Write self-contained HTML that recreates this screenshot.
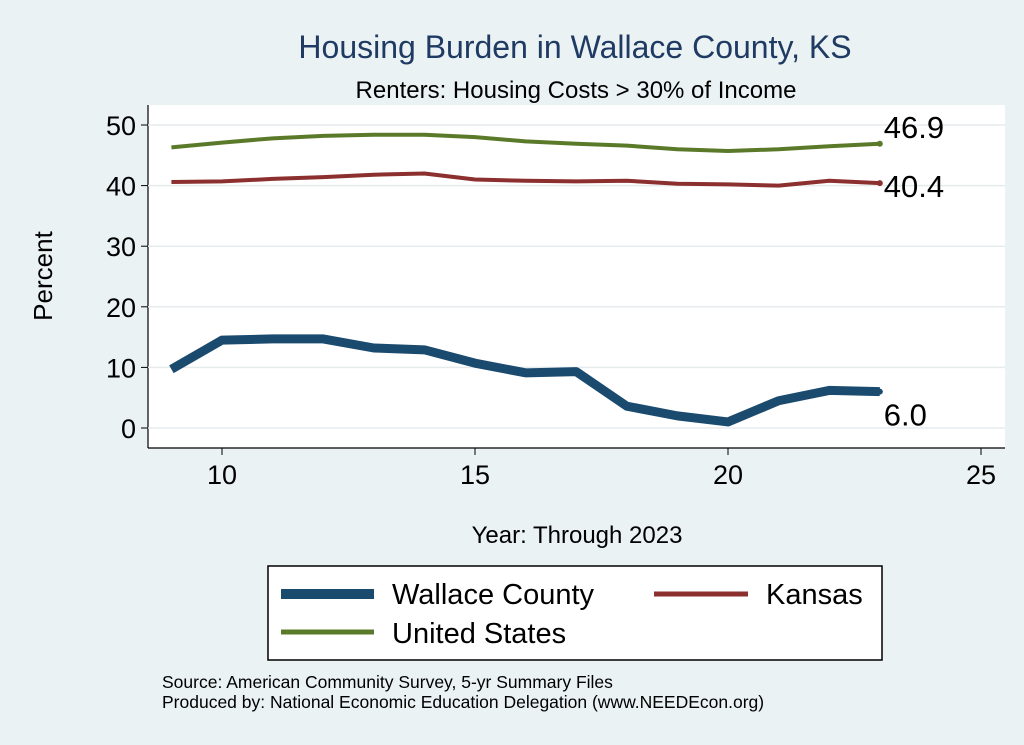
<!DOCTYPE html>
<html><head><meta charset="utf-8"><style>
body{margin:0;background:#eaf2f3;font-family:"Liberation Sans",sans-serif}
svg{display:block}
</style></head><body>
<svg width="1024" height="745" id="c" xmlns="http://www.w3.org/2000/svg">
<rect x="0" y="0" width="1024" height="745" fill="#eaf2f3"/>
<rect x="148" y="105" width="857" height="343" fill="#ffffff"/>
<text x="575" y="58" font-size="32" fill="#1f3a63" text-anchor="middle">Housing Burden in Wallace County, KS</text>
<text x="576" y="98" font-size="24" fill="#000" text-anchor="middle">Renters: Housing Costs &gt; 30% of Income</text>
<text x="52" y="276" font-size="26" text-anchor="middle" transform="rotate(-90 52 276)">Percent</text>
<text x="577" y="543" font-size="24" text-anchor="middle">Year: Through 2023</text>
<g id="axes"></g>
<g id="series"></g>
<rect x="268" y="566" width="614" height="94" fill="#fff" stroke="#000" stroke-width="1.5"/>
<g><line x1="281" y1="594" x2="374" y2="594" stroke="#1b4a6f" stroke-width="10"/><text x="392" y="604" font-size="29">Wallace County</text></g>
<g><line x1="654" y1="594" x2="748" y2="594" stroke="#8c2f2f" stroke-width="5"/><text x="766" y="604" font-size="29">Kansas</text></g>
<g><line x1="281" y1="632" x2="374" y2="632" stroke="#5a7a2a" stroke-width="5"/><text x="392" y="643" font-size="29">United States</text></g>
<text x="162" y="688" font-size="17.5">Source: American Community Survey, 5-yr Summary Files</text>
<text x="162" y="708" font-size="17.5">Produced by: National Economic Education Delegation (www.NEEDEcon.org)</text>
</svg>
<script>
const years=[9,10,11,12,13,14,15,16,17,18,19,20,21,22,23];
const wallace=[9.7,14.5,14.7,14.7,13.2,12.9,10.7,9.1,9.3,3.6,2.0,1.0,4.5,6.2,6.0];
const kansas=[40.6,40.7,41.1,41.4,41.8,42.0,41.0,40.8,40.7,40.8,40.3,40.2,40.0,40.8,40.4];
const us=[46.3,47.1,47.8,48.2,48.4,48.4,48.0,47.3,46.9,46.6,46.0,45.7,46.0,46.5,46.9];
const yTicks=[0,10,20,30,40,50];
const xTicks=[10,15,20,25];
const NS='http://www.w3.org/2000/svg';
const xs=v=>222+(v-10)*50.6;
const ys=v=>428-v*6.06;
const ax=document.getElementById('axes'),se=document.getElementById('series');
function mk(t,a,p){const e=document.createElementNS(NS,t);for(const k in a)e.setAttribute(k,a[k]);p.appendChild(e);return e;}
let l=mk('line',{x1:148,y1:105,x2:148,y2:448,stroke:'#000','stroke-width':1.2},ax);


l=mk('line',{x1:148,y1:448,x2:1005,y2:448,stroke:'#000','stroke-width':1.2},ax);


yTicks.forEach(v=>{
 const g=mk('line',{x1:148,y1:ys(v),x2:1005,y2:ys(v),stroke:'#e6ecee','stroke-width':1.5},ax);
 
 
 const t=mk('line',{x1:141,y1:ys(v),x2:148,y2:ys(v),stroke:'#000'},ax);
 
 
 const tx=mk('text',{x:136,y:ys(v)+10,'font-size':27,'text-anchor':'end'},ax);tx.textContent=v;
 
 
});
xTicks.forEach(v=>{
 const t=mk('line',{x1:xs(v),y1:448,x2:xs(v),y2:455,stroke:'#000'},ax);
 
 
 const tx=mk('text',{x:xs(v),y:484,'font-size':27,'text-anchor':'middle'},ax);tx.textContent=v;
 
 
});
function line(arr,col,w,name,labDy){
 const p=mk('polyline',{points:arr.map((v,i)=>xs(years[i])+','+ys(v)).join(' '),fill:'none',stroke:col,'stroke-width':w,'stroke-linejoin':'round'},se);
 
 
 const last=arr[arr.length-1];
 const d=mk('circle',{cx:xs(years[years.length-1]),cy:ys(last),r:3,fill:col},se);
 
 
 const t=mk('text',{x:xs(years[years.length-1])+4,y:ys(last)+labDy,'font-size':31},se);
 t.textContent=last.toFixed(1);
 
 
}
line(us,'#5a7a2a',4,'line-united-states',-6);
line(kansas,'#8c2f2f',4,'line-kansas',14);
line(wallace,'#1b4a6f',9,'line-wallace-county',34);
</script>
</body></html>
